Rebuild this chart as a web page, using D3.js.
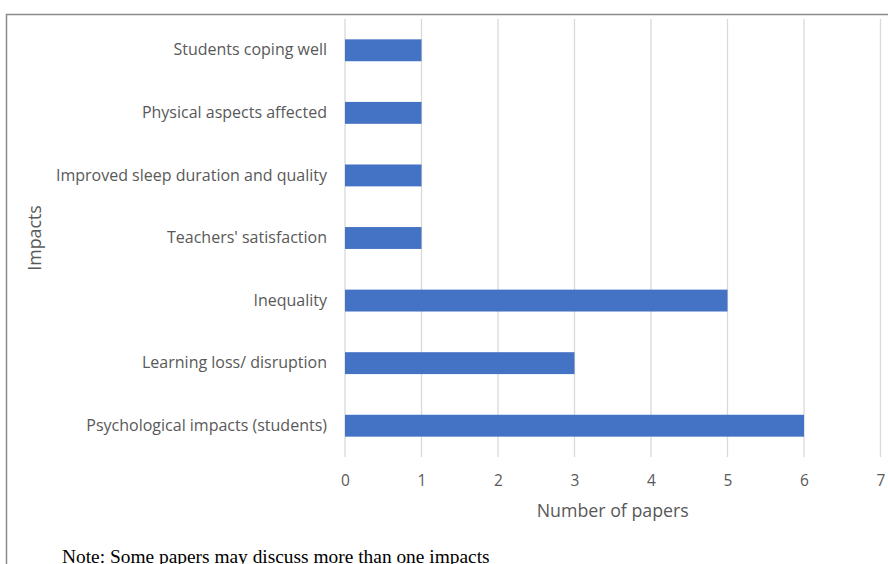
<!DOCTYPE html>
<html>
<head>
<meta charset="utf-8">
<script src="https://cdn.jsdelivr.net/npm/d3@7"></script>
<style>
  body { margin: 0; background: #fff; }
  svg text { font-family: "Open Sans", sans-serif; fill: #595959; }
</style>
</head>
<body>
<div id="chart"></div>
<script>
const categories = [
  'Students coping well',
  'Physical aspects affected',
  'Improved sleep duration and quality',
  "Teachers' satisfaction",
  'Inequality',
  'Learning loss/ disruption',
  'Psychological impacts (students)'
];
const papers = [1, 1, 1, 1, 5, 3, 6];
const xTicks = [0, 1, 2, 3, 4, 5, 6, 7];

const w = 888;
const h = 564;

const data = categories.map((c, i) => ({ name: c, value: papers[i] }));

const svg = d3.select('#chart')
              .append('svg')
              .attr('width', w)
              .attr('height', h);

// frame of the picture
svg.append('path')
   .attr('d', `M6.5,${h} V14.5 H${w}`)
   .attr('fill', 'none')
   .attr('stroke', '#8c8c8c')
   .attr('stroke-width', 1.5);

//Scales
const xScale = d3.scaleLinear()
                 .domain([0, 7])
                 .range([345, 880.5]);

const yScale = d3.scaleBand()
                 .domain(categories)
                 .range([19, 457])
                 .paddingInner(0.65)
                 .paddingOuter(0.325);

//Gridlines
svg.append('g')
   .selectAll('line')
   .data(xTicks)
   .enter()
   .append('line')
   .attr('x1', d => xScale(d))
   .attr('x2', d => xScale(d))
   .attr('y1', 19)
   .attr('y2', 457)
   .attr('stroke', '#d9d9d9')
   .attr('stroke-width', 1.3);

//Bars
svg.selectAll('rect.bar')
   .data(data)
   .enter()
   .append('rect')
   .attr('class', 'bar')
   .attr('x', xScale(0))
   .attr('y', d => yScale(d.name))
   .attr('width', d => xScale(d.value) - xScale(0))
   .attr('height', yScale.bandwidth())
   .attr('fill', '#4472c4');

//Axes
const xAxis = d3.axisBottom(xScale).tickValues(xTicks).tickFormat(d3.format('d')).tickSize(0).tickPadding(0);
const yAxis = d3.axisLeft(yScale).tickSize(0).tickPadding(18);

const gx = svg.append('g')
   .attr('transform', 'translate(0, 475)')
   .call(xAxis);
gx.select('.domain').remove();
gx.selectAll('text').attr('font-size', 15.5).attr('dy', '0.7em');

const gy = svg.append('g')
   .attr('transform', `translate(${xScale(0)}, 0)`)
   .call(yAxis);
gy.select('.domain').remove();
gy.selectAll('text').attr('font-size', 16);

//Axes labels
svg.append('text')
   .attr('x', (xScale(0) + xScale(7)) / 2)
   .attr('y', 517)
   .attr('text-anchor', 'middle')
   .attr('font-size', 17.8)
   .text('Number of papers');

svg.append('text')
   .attr('transform', `translate(41, 238) rotate(-90)`)
   .attr('text-anchor', 'middle')
   .attr('font-size', 17.8)
   .text('Impacts');

//Note
svg.append('text')
   .attr('x', 62)
   .attr('y', 563)
   .attr('font-size', 19.4)
   .style('font-family', '"Liberation Serif", serif')
   .style('fill', '#000')
   .text('Note: Some papers may discuss more than one impacts');
</script>
</body>
</html>
